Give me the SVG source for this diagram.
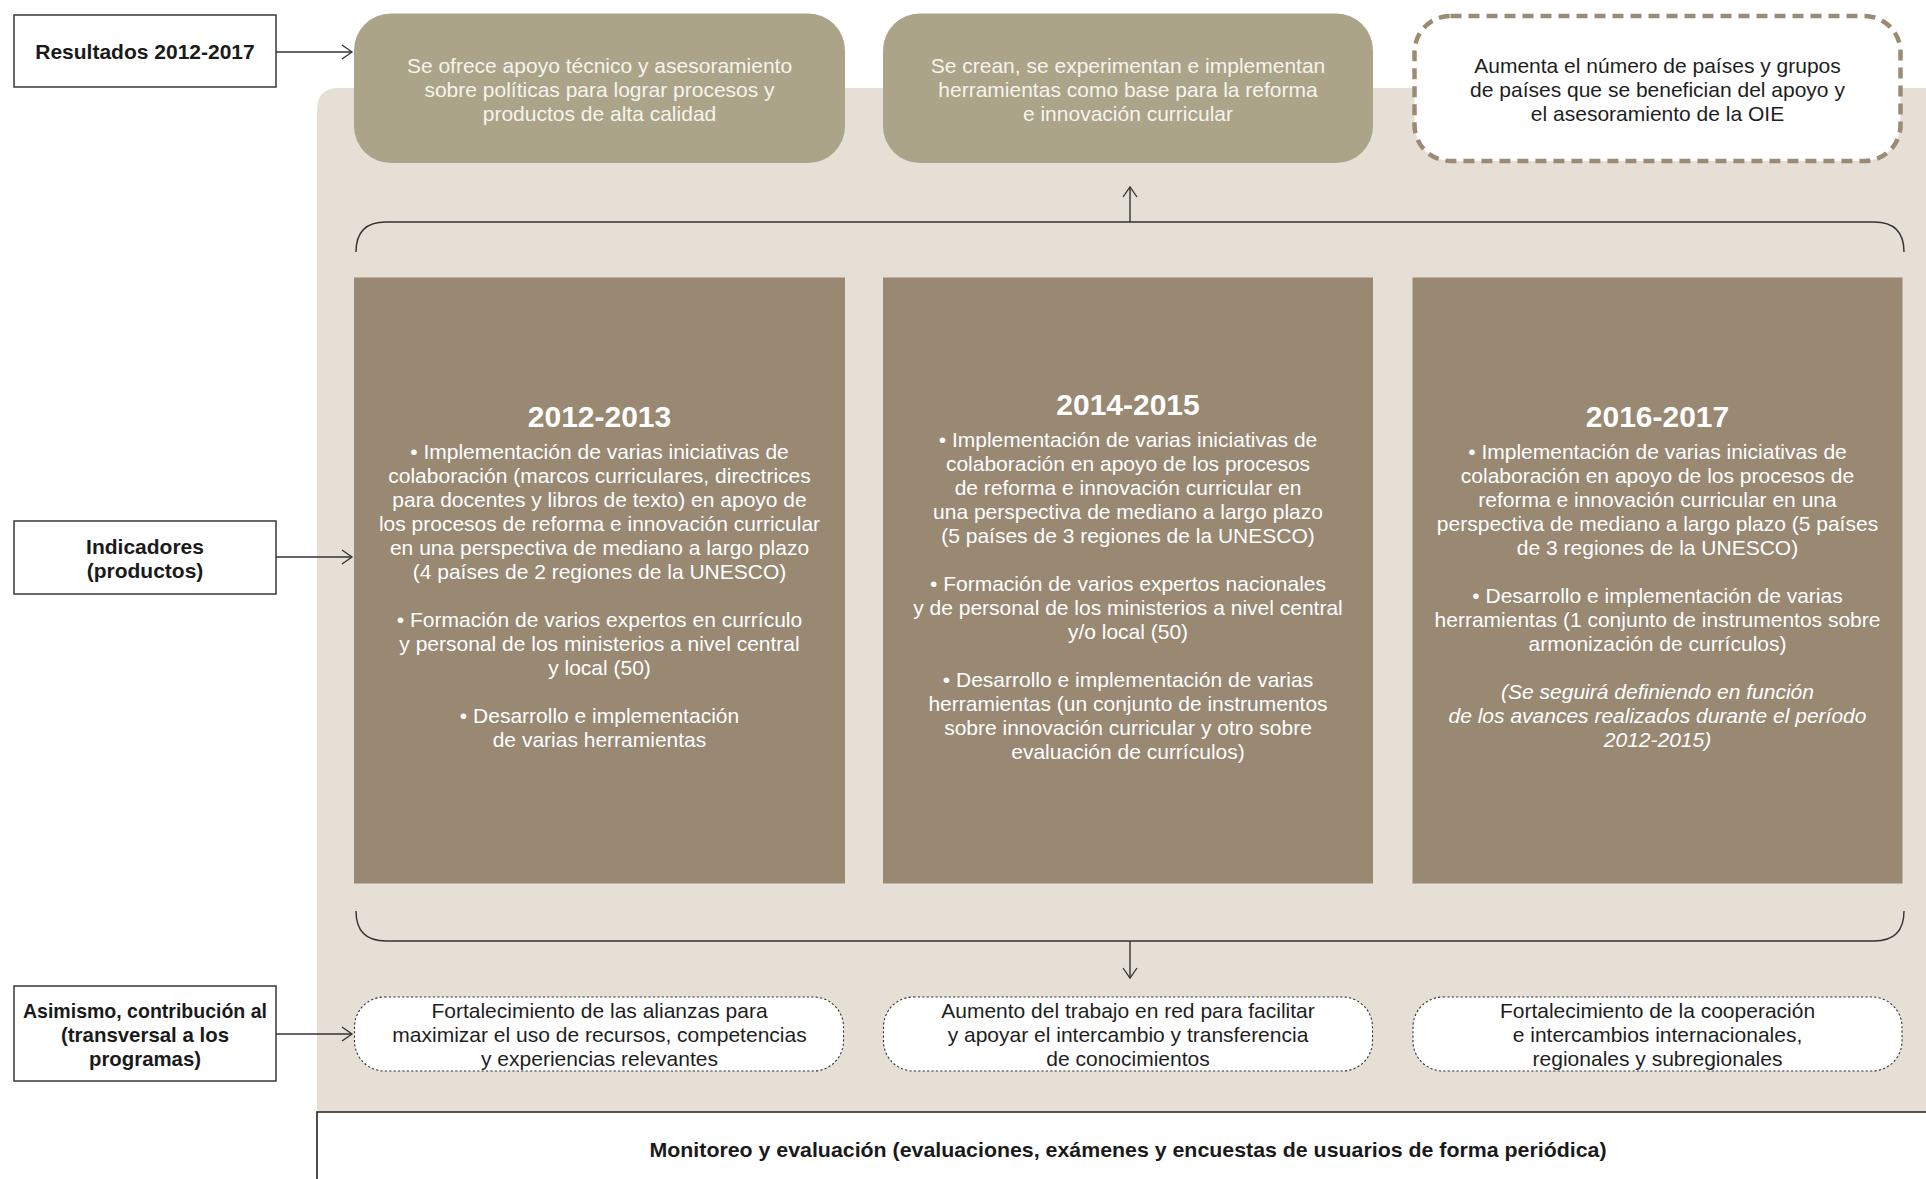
<svg xmlns="http://www.w3.org/2000/svg" width="1926" height="1179" viewBox="0 0 1926 1179">
<defs>
<style>
text{font-family:"Liberation Sans",Arial,sans-serif;font-size:21px;text-anchor:middle}
.lbl{font-weight:bold;fill:#1a1a1a}
.lblbox{fill:#fff;stroke:#444;stroke-width:1.6}
.green{fill:#ABA488}
.gtxt{fill:#F6F4EE}
.period{fill:#998872}
.ptxt{fill:#fff}
.ptitle{fill:#fff;font-weight:bold;font-size:30px}
.dot{fill:#fff;stroke:#333;stroke-width:1.1;stroke-dasharray:2.2 2.2}
.dark{fill:#1e1e1e}
.conn{fill:none;stroke:#333;stroke-width:1.4}
</style>
<marker id="arr" markerUnits="userSpaceOnUse" markerWidth="14" markerHeight="16" refX="11" refY="8" orient="auto">
<path d="M1,1 L11,8 L1,15" fill="none" stroke="#333" stroke-width="1.3"/>
</marker>
</defs>
<rect width="1926" height="1179" fill="#fff"/>
<path id="bg" d="M317,1112 V110 Q317,88 339,88 H1926 V1112 Z" fill="#E5DFD5"/>

<g id="monitoreo">
<path d="M1926,1112 H317 V1179" fill="#fff" stroke="#222" stroke-width="1.6"/>
<text class="lbl" x="1128" y="1157" textLength="957" lengthAdjust="spacingAndGlyphs">Monitoreo y evaluación (evaluaciones, exámenes y encuestas de usuarios de forma periódica)</text>
</g>

<g id="label-resultados">
<rect class="lblbox" x="14" y="15" width="262" height="72"/>
<text class="lbl" x="145" y="59">Resultados 2012-2017</text>
</g>
<g id="label-indicadores">
<rect class="lblbox" x="14" y="521" width="262" height="73"/>
<text class="lbl" x="145" y="554">Indicadores</text>
<text class="lbl" x="145" y="578">(productos)</text>
</g>
<g id="label-asimismo">
<rect class="lblbox" x="14" y="986" width="262" height="95"/>
<text class="lbl" x="145" y="1018" textLength="244" lengthAdjust="spacingAndGlyphs">Asimismo, contribución al</text>
<text class="lbl" x="145" y="1042" textLength="168" lengthAdjust="spacingAndGlyphs">(transversal a los</text>
<text class="lbl" x="145" y="1066" textLength="112" lengthAdjust="spacingAndGlyphs">programas)</text>
</g>

<g id="resultado-1">
<rect class="green" x="354" y="13.5" width="491" height="149.5" rx="37"/>
<text class="gtxt" x="599.5" y="73">Se ofrece apoyo técnico y asesoramiento</text>
<text class="gtxt" x="599.5" y="97">sobre políticas para lograr procesos y</text>
<text class="gtxt" x="599.5" y="121">productos de alta calidad</text>
</g>
<g id="resultado-2">
<rect class="green" x="883" y="13.5" width="490" height="149.5" rx="37"/>
<text class="gtxt" x="1128" y="73">Se crean, se experimentan e implementan</text>
<text class="gtxt" x="1128" y="97">herramientas como base para la reforma</text>
<text class="gtxt" x="1128" y="121">e innovación curricular</text>
</g>
<g id="resultado-3">
<rect x="1414.5" y="16" width="486" height="145" rx="36" fill="#fff" stroke="#9B8B74" stroke-width="4.5" stroke-dasharray="11 7"/>
<text class="dark" x="1657.5" y="73">Aumenta el número de países y grupos</text>
<text class="dark" x="1657.5" y="97">de países que se benefician del apoyo y</text>
<text class="dark" x="1657.5" y="121">el asesoramiento de la OIE</text>
</g>

<g id="periodo-2012-2013">
<rect class="period" x="354" y="277.5" width="491" height="606"/>
<text class="ptitle" x="599.5" y="427">2012-2013</text>
<text class="ptxt" x="599.5" y="459">• Implementación de varias iniciativas de</text>
<text class="ptxt" x="599.5" y="483">colaboración (marcos curriculares, directrices</text>
<text class="ptxt" x="599.5" y="507">para docentes y libros de texto) en apoyo de</text>
<text class="ptxt" x="599.5" y="531">los procesos de reforma e innovación curricular</text>
<text class="ptxt" x="599.5" y="555">en una perspectiva de mediano a largo plazo</text>
<text class="ptxt" x="599.5" y="579">(4 países de 2 regiones de la UNESCO)</text>
<text class="ptxt" x="599.5" y="627">• Formación de varios expertos en currículo</text>
<text class="ptxt" x="599.5" y="651">y personal de los ministerios a nivel central</text>
<text class="ptxt" x="599.5" y="675">y local (50)</text>
<text class="ptxt" x="599.5" y="723">• Desarrollo e implementación</text>
<text class="ptxt" x="599.5" y="747">de varias herramientas</text>
</g>
<g id="periodo-2014-2015">
<rect class="period" x="883" y="277.5" width="490" height="606"/>
<text class="ptitle" x="1128" y="415">2014-2015</text>
<text class="ptxt" x="1128" y="447">• Implementación de varias iniciativas de</text>
<text class="ptxt" x="1128" y="471">colaboración en apoyo de los procesos</text>
<text class="ptxt" x="1128" y="495">de reforma e innovación curricular en</text>
<text class="ptxt" x="1128" y="519">una perspectiva de mediano a largo plazo</text>
<text class="ptxt" x="1128" y="543">(5 países de 3 regiones de la UNESCO)</text>
<text class="ptxt" x="1128" y="591">• Formación de varios expertos nacionales</text>
<text class="ptxt" x="1128" y="615">y de personal de los ministerios a nivel central</text>
<text class="ptxt" x="1128" y="639">y/o local (50)</text>
<text class="ptxt" x="1128" y="687">• Desarrollo e implementación de varias</text>
<text class="ptxt" x="1128" y="711">herramientas (un conjunto de instrumentos</text>
<text class="ptxt" x="1128" y="735">sobre innovación curricular y otro sobre</text>
<text class="ptxt" x="1128" y="759">evaluación de currículos)</text>
</g>
<g id="periodo-2016-2017">
<rect class="period" x="1412.5" y="277.5" width="490" height="606"/>
<text class="ptitle" x="1657.5" y="427">2016-2017</text>
<text class="ptxt" x="1657.5" y="459">• Implementación de varias iniciativas de</text>
<text class="ptxt" x="1657.5" y="483">colaboración en apoyo de los procesos de</text>
<text class="ptxt" x="1657.5" y="507">reforma e innovación curricular en una</text>
<text class="ptxt" x="1657.5" y="531">perspectiva de mediano a largo plazo (5 países</text>
<text class="ptxt" x="1657.5" y="555">de 3 regiones de la UNESCO)</text>
<text class="ptxt" x="1657.5" y="603">• Desarrollo e implementación de varias</text>
<text class="ptxt" x="1657.5" y="627">herramientas (1 conjunto de instrumentos sobre</text>
<text class="ptxt" x="1657.5" y="651">armonización de currículos)</text>
<text class="ptxt" x="1657.5" y="699" font-style="italic">(Se seguirá definiendo en función</text>
<text class="ptxt" x="1657.5" y="723" font-style="italic">de los avances realizados durante el período</text>
<text class="ptxt" x="1657.5" y="747" font-style="italic">2012-2015)</text>
</g>

<g id="contrib-1">
<rect class="dot" x="354.5" y="997" width="489" height="74" rx="30"/>
<text class="dark" x="599.5" y="1018">Fortalecimiento de las alianzas para</text>
<text class="dark" x="599.5" y="1042">maximizar el uso de recursos, competencias</text>
<text class="dark" x="599.5" y="1066">y experiencias relevantes</text>
</g>
<g id="contrib-2">
<rect class="dot" x="883.5" y="997" width="489" height="74" rx="30"/>
<text class="dark" x="1128" y="1018">Aumento del trabajo en red para facilitar</text>
<text class="dark" x="1128" y="1042">y apoyar el intercambio y transferencia</text>
<text class="dark" x="1128" y="1066">de conocimientos</text>
</g>
<g id="contrib-3">
<rect class="dot" x="1413" y="997" width="489" height="74" rx="30"/>
<text class="dark" x="1657.5" y="1018">Fortalecimiento de la cooperación</text>
<text class="dark" x="1657.5" y="1042">e intercambios internacionales,</text>
<text class="dark" x="1657.5" y="1066">regionales y subregionales</text>
</g>

<g id="connectors">
<path class="conn" d="M356,252 Q356,222 386,222 H1874 Q1904,222 1904,252"/>
<path class="conn" d="M356,911 Q356,941 386,941 H1874 Q1904,941 1904,911"/>
<line class="conn" x1="1130" y1="222" x2="1130" y2="187" marker-end="url(#arr)"/>
<line class="conn" x1="1130" y1="941" x2="1130" y2="978" marker-end="url(#arr)"/>
<line class="conn" x1="276" y1="52" x2="352" y2="52" marker-end="url(#arr)"/>
<line class="conn" x1="276" y1="557" x2="352" y2="557" marker-end="url(#arr)"/>
<line class="conn" x1="276" y1="1034" x2="352" y2="1034" marker-end="url(#arr)"/>
</g>
</svg>
